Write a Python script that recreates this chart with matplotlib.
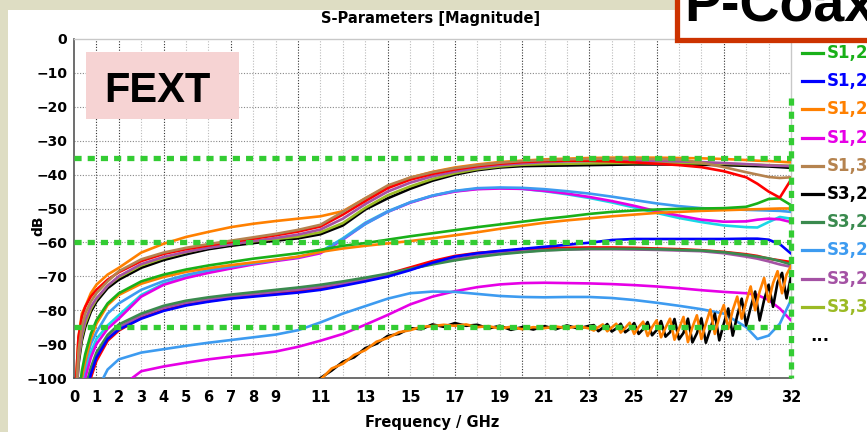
import numpy as np
import matplotlib.pyplot as plt
from matplotlib.patches import Rectangle
from matplotlib.lines import Line2D

W, H = 867, 432

# frequency sweep (GHz) shared by the smooth traces
freq = [0.1, 0.2, 0.35, 0.5, 0.75, 1, 1.5, 2, 3, 4,
        5, 6, 7, 8, 9, 10, 11, 12, 13, 14,
        15, 16, 17, 18, 19, 20, 21, 22, 23, 24,
        25, 26, 27, 28, 29, 30, 30.5, 31, 31.5, 32]

# --- upper FEXT bundle (-35 dB at high frequency)
s1_31 = [-104, -92, -85, -81, -77.5, -75, -71.5, -68.5, -65, -63,
         -61.6, -60.5, -59.5, -58.5, -57.5, -56.3, -54.8, -51, -47, -43.2,
         -40.9, -39.3, -38.1, -37.2, -36.5, -36, -35.7, -35.5, -35.4, -35.3,
         -35.3, -35.4, -35.5, -36.5, -37.8, -39.3, -40, -40.7, -41, -40.8]
red_hi = [-100, -88, -82, -79, -76, -74, -71, -68.8, -65.5, -63.4,
          -62, -60.9, -59.9, -58.9, -57.9, -56.8, -55.3, -51.8, -47.8, -44,
          -41.5, -39.8, -38.5, -37.5, -36.8, -36.3, -36, -35.9, -35.9, -36.1,
          -36.4, -36.8, -37.2, -37.8, -39, -40.8, -42.7, -45, -46.8, -41.5]
s3_29_hi = [-106, -94, -87, -83, -79, -76.5, -72.8, -70, -66.4, -64.3,
            -62.8, -61.6, -60.6, -59.6, -58.7, -57.7, -56.2, -53, -48.7, -45,
            -42.4, -40.5, -39.1, -38, -37.2, -36.7, -36.3, -36.1, -36, -35.9,
            -35.9, -36, -36.1, -36.3, -36.6, -36.9, -37.1, -37.3, -37.4, -37.5]
s1_27_hi = [-100, -88, -81, -79, -75, -72.5, -69.5, -67.5, -63, -60.4,
            -58.4, -56.9, -55.5, -54.5, -53.7, -53, -52.3, -50.8, -47, -43.5,
            -40.9, -39.2, -37.9, -37, -36.3, -35.9, -35.5, -35.3, -35.1, -35,
            -35, -35, -35.1, -35.2, -35.4, -35.7, -35.9, -36, -36.2, -36.4]
s3_21_hi = [-106, -96, -89, -85, -80.5, -77.5, -73.5, -71, -67.5, -65.2,
            -63.5, -62, -61, -60.2, -59.5, -58.8, -57.6, -55, -50.3, -47,
            -44.2, -41.8, -40, -38.7, -37.9, -37.5, -37.4, -37.3, -37.2, -37.1,
            -37, -37, -37, -37.1, -37.2, -37.4, -37.5, -37.6, -37.8, -38]
s3_31 = [-105, -95, -88, -84, -79.7, -76.8, -72.8, -70.3, -66.8, -64.6,
         -62.9, -61.5, -60.5, -59.7, -59, -58.3, -57, -54.3, -49.8, -46.1,
         -43.5, -41.3, -39.6, -38.4, -37.6, -37.1, -36.9, -36.8, -36.7, -36.6,
         -36.6, -36.6, -36.6, -36.7, -36.8, -37, -37.1, -37.2, -37.3, -37.4]

# --- middle group (-50 dB at high frequency)
s1_23 = [-116, -106, -98, -93, -87, -83, -78, -75, -71.5, -69.5,
         -68, -66.8, -65.8, -64.8, -64, -63.2, -62.2, -61, -60.2, -59.2,
         -58.2, -57.3, -56.4, -55.5, -54.7, -53.9, -53.1, -52.4, -51.6, -51,
         -50.6, -50.3, -50.1, -50, -49.9, -49.5, -48.5, -47.2, -47, -49]
s1_27_mid = [-118, -108, -100, -95, -88.5, -84, -78.5, -75.5, -72.2, -70.2,
             -68.7, -67.6, -66.7, -65.9, -65.1, -64.2, -62.8, -61.8, -61, -60.3,
             -59.6, -58.8, -57.9, -57, -56, -55.1, -54.2, -53.5, -52.9, -52.3,
             -51.8, -51.3, -51, -50.7, -50.5, -50.3, -50.2, -50.1, -50, -50]
s3_27_mid = [-120, -112, -102, -96, -90, -86.5, -81, -78, -74, -71.4,
             -69.6, -68.2, -67.2, -66.2, -65.2, -64.3, -62.8, -59, -54.6, -51,
             -48.2, -46.2, -44.8, -44, -43.8, -43.9, -44.3, -44.9, -45.6, -46.5,
             -47.5, -48.5, -49.3, -49.9, -50.2, -50.4, -50.5, -50.6, -50.7, -51]
s1_29 = [-125, -118, -106, -100, -94, -90, -85.5, -82.5, -76, -72.5,
         -70.5, -69, -67.7, -66.5, -65.5, -64.6, -63.2, -59.2, -54.5, -51,
         -48.3, -46.3, -45, -44.3, -44.1, -44.2, -44.8, -45.6, -46.6, -47.8,
         -49.2, -50.8, -52.1, -53.3, -53.9, -53.8, -53.3, -53, -53.2, -54]
cyan = [-122, -115, -104, -98, -92.5, -88.5, -84.5, -81.5, -75.5, -72.2,
        -70.3, -68.8, -67.5, -66.3, -65.3, -64.4, -62.8, -58.8, -54.2, -50.8,
        -48.2, -46.2, -44.9, -44.2, -44, -44.2, -44.9, -45.8, -46.9, -48.2,
        -49.7, -51.3, -52.8, -54, -55, -55.5, -55.6, -54, -52.5, -53]

# --- -60 dB group
s1_25 = [-130, -122, -112, -105, -99, -94, -88.5, -85.7, -82.5, -80.2,
         -78.6, -77.5, -76.6, -76, -75.4, -74.8, -74, -72.8, -71.5, -70.1,
         -68.2, -66, -64.2, -63.2, -62.5, -61.9, -61.3, -60.7, -60.1, -59.3,
         -59, -59, -59, -59, -59, -58.9, -58.9, -59.2, -60.5, -63.3]
s3_25 = [-128, -120, -110, -103, -97, -92.5, -87.3, -84.2, -81, -78.7,
         -77.2, -76.2, -75.4, -74.7, -74, -73.3, -72.5, -71.5, -70.4, -69.2,
         -67.8, -66.5, -65.3, -64.3, -63.5, -62.9, -62.4, -62.1, -61.9, -61.9,
         -61.9, -62, -62.2, -62.4, -62.9, -63.7, -64.2, -64.7, -65.5, -66.5]
s3_29_mid = [-130, -122, -112, -104.5, -98.5, -93.5, -88, -85, -81.6, -79.3,
             -77.8, -76.8, -76, -75.3, -74.6, -73.9, -73.1, -72.1, -71, -69.5,
             -67.9, -66.3, -64.9, -63.9, -63.2, -62.7, -62.3, -62.1, -62, -62,
             -62.1, -62.2, -62.4, -62.6, -63.2, -64.2, -64.8, -65.6, -66.5, -67.2]
red_mid = [-131, -123, -113, -106, -100, -95, -89, -86, -82.3, -80,
           -78.4, -77.3, -76.4, -75.7, -75, -74.3, -73.5, -72.3, -70.9, -69.3,
           -67.4, -65.5, -64, -63.1, -62.6, -62.1, -61.8, -61.6, -61.5, -61.5,
           -61.6, -61.8, -62, -62.3, -62.8, -63.5, -64, -64.8, -65.3, -65.8]

# --- lowest smooth traces
s3_27_lo = [-140, -135, -128, -122, -115, -104, -97.5, -94.5, -92.5, -91.5,
            -90.5, -89.6, -88.8, -88, -87.2, -85.9, -83.6, -81, -78.8, -76.6,
            -75, -74.5, -74.6, -75.2, -75.8, -76.1, -76.2, -76.1, -76.1, -76.4,
            -77, -77.8, -78.7, -79.7, -81, -85, -88.5, -87.5, -84, -77]
s1_29_lo = [-150, -145, -140, -135, -128, -122, -112, -103, -98, -96.6,
            -95.5, -94.5, -93.7, -93, -92.2, -90.8, -89, -87, -84.3, -81.4,
            -78.3, -76, -74.4, -73.2, -72.4, -72, -71.9, -72, -72.1, -72.3,
            -72.6, -73, -73.5, -74.1, -74.6, -75, -75.5, -77, -79.5, -83]

# --- noisy far-port traces around -85 dB
f_noise = list(np.round(np.arange(11, 23.01, 0.5), 2)) + list(np.round(np.arange(23.2, 32.01, 0.2), 2))
s3_21_lo = [-100, -97.8, -95.2, -93.9, -91.2, -89.9, -87.6, -87, -85.3, -85.6,
            -84.2, -84.9, -83.8, -84.6, -84.3, -85.4, -84.6, -85.8, -85, -85.7,
            -84.7, -85.6, -84.5, -85.4, -84.6,
            -84.4, -86.2, -85.2, -84.1, -86.3, -85.4, -84.0, -86.5, -85.5, -83.8,
            -87.0, -85.6, -83.5, -87.4, -85.9, -83.2, -87.8, -86.5, -82.6, -88.6,
            -86.7, -82.5, -89.5, -86.8, -82.4, -89.6, -85.6, -81.0, -88.9, -84.0,
            -79.5, -87.5, -81.6, -76.6, -84.5, -79.2, -74.5, -83.0, -77.0, -72.5,
            -79.0, -71.8, -69.0, -76.5, -70.0]
s1_27_lo = [-100.5, -97.2, -95.8, -93.2, -91.8, -89.3, -88.2, -86.5, -85.9, -84.9,
            -84.7, -84.3, -84.6, -84.2, -85, -84.7, -85.4, -84.9, -85.6, -85,
            -85.3, -84.8, -85.3, -84.7, -85.4,
            -86.0, -85.0, -84.2, -86.2, -85.1, -84.0, -86.6, -85.2, -83.7, -87.0,
            -85.0, -83.4, -87.6, -85.0, -83.0, -88.0, -85.2, -82.5, -88.7, -85.5,
            -82.0, -89.4, -85.0, -81.5, -88.5, -84.0, -79.8, -87.0, -82.0, -78.5,
            -85.5, -80.0, -76.0, -82.5, -77.5, -73.0, -80.0, -74.5, -70.5, -77.5,
            -72.0, -68.5, -75.0, -69.5, -67.0]

# limit lines
limits_db = [-35, -60, -85]
limit_top = -17.5

port_names = ['S1,23', 'S1,25', 'S1,27', 'S1,29', 'S1,31',
              'S3,21', 'S3,25', 'S3,27', 'S3,29', 'S3,31']
port_colors = ['#19B019', '#0000FF', '#FF8000', '#E600E6', '#B5834F',
               '#000000', '#3A8A4E', '#3D9BF0', '#A452A4', '#9BBA24']
col = dict(zip(port_names, port_colors))

traces = [
    (s1_29_lo, '#E600E6'), (s3_27_lo, col['S3,27']),
    (red_mid, '#FF0000'), (s3_29_mid, col['S3,29']), (s3_25, col['S3,25']), (s1_25, col['S1,25']),
    (cyan, '#19D7E6'), (s1_29, col['S1,29']), (s3_27_mid, col['S3,27']),
    (s1_27_mid, col['S1,27']), (s1_23, col['S1,23']),
    (s3_21_hi, col['S3,21']), (s3_31, col['S3,31']), (s1_27_hi, col['S1,27']),
    (s3_29_hi, col['S3,29']), (red_hi, '#FF0000'), (s1_31, col['S1,31']),
]


def fx(x):
    return x / W


def fy(y):
    return 1 - y / H


fig = plt.figure(figsize=(W / 100, H / 100), dpi=100, facecolor='#DEDDC3')
fig.patches.append(Rectangle((fx(8), 0), 1, fy(10), transform=fig.transFigure,
                             facecolor='white', edgecolor='none', zorder=-5))

ax = fig.add_axes([fx(74), fy(378), (791 - 74) / W, (378 - 39) / H])
ax.set_facecolor('white')

for vals, c in traces:
    ax.plot(freq, vals, color=c, lw=1.9, solid_capstyle='round', zorder=3)
ax.plot(f_noise, s3_21_lo, color='#000000', lw=1.9, zorder=4)
ax.plot(f_noise, s1_27_lo, color=col['S1,27'], lw=1.9, zorder=4)

# dotted green limit lines
for lv in limits_db:
    ax.plot([0, 32], [lv, lv], color='#33CC33', lw=3.8, ls=(0, (1.35, 1.15)),
            zorder=10, clip_on=False)
ax.plot([32, 32], [limit_top, -100], color='#33CC33', lw=3.8, ls=(0, (1.35, 1.15)),
        zorder=10, clip_on=False)

ax.set_xlim(0, 32)
ax.set_ylim(-100, 0)
xt = list(range(0, 10)) + list(range(11, 30, 2)) + [32]
ax.set_xticks(xt)
ax.set_yticks(range(-100, 1, 10))
ax.tick_params(length=0, labelsize=10.5)
ax.tick_params(axis='x', pad=9)
ax.tick_params(axis='y', labelsize=10, pad=5)
for lab in ax.get_xticklabels() + ax.get_yticklabels():
    lab.set_fontweight('bold')

# grid
dark = [1, 2, 4, 7, 10, 14, 17, 20, 23, 26, 29]
for g in range(1, 32):
    ax.axvline(g, color='#333333' if g in dark else '#BBBBBB', lw=0.8,
               ls=(0, (1, 1.5)), zorder=1)
for g in range(-90, 0, 10):
    ax.axhline(g, color='#888888', lw=0.8, ls=(0, (1, 1.5)), zorder=1)

for s in ['left', 'bottom']:
    ax.spines[s].set_color('#555555')
    ax.spines[s].set_linewidth(1.2)
for s in ['top', 'right']:
    ax.spines[s].set_color('#C8C8C8')
    ax.spines[s].set_linewidth(1.0)

fig.text(fx(431), fy(18.5), 'S-Parameters [Magnitude]', ha='center', va='center',
         fontsize=10.5, fontweight='bold')
fig.text(fx(432), fy(422), 'Frequency / GHz', ha='center', va='center',
         fontsize=10.5, fontweight='bold')
fig.text(fx(38), fy(226), 'dB', ha='center', va='center', rotation=90,
         fontsize=10, fontweight='bold')

# FEXT tag
fig.patches.append(Rectangle((fx(86), fy(119)), (239 - 86) / W, (119 - 52) / H,
                             transform=fig.transFigure, facecolor='#F6D3D3',
                             edgecolor='none', zorder=5))
fig.text(fx(157), fy(102), 'FEXT', ha='center', va='baseline', fontsize=30,
         fontweight='bold', family='Liberation Sans', zorder=6)

# P-Coax tag
fig.patches.append(Rectangle((fx(677), fy(40)), 300 / W, 60 / H,
                             transform=fig.transFigure, facecolor='white',
                             edgecolor='#CC3300', lw=3.8, zorder=5))
fig.text(fx(684), fy(22), 'P-Coax', ha='left', va='baseline', fontsize=40,
         fontweight='bold', family='Liberation Sans', zorder=6)

# legend
for i, (name, c) in enumerate(zip(port_names, port_colors)):
    yy = 53 + 28.2 * i
    fig.add_artist(Line2D([fx(802), fx(823)], [fy(yy), fy(yy)], color=c, lw=2.3,
                          transform=fig.transFigure))
    fig.text(fx(827), fy(yy), name, color=c, ha='left', va='center',
             fontsize=12, fontweight='bold')
fig.text(fx(820), fy(336), '...', ha='center', va='center', fontsize=12,
         fontweight='bold')

fig.savefig('out.png', dpi=100, facecolor=fig.get_facecolor())
